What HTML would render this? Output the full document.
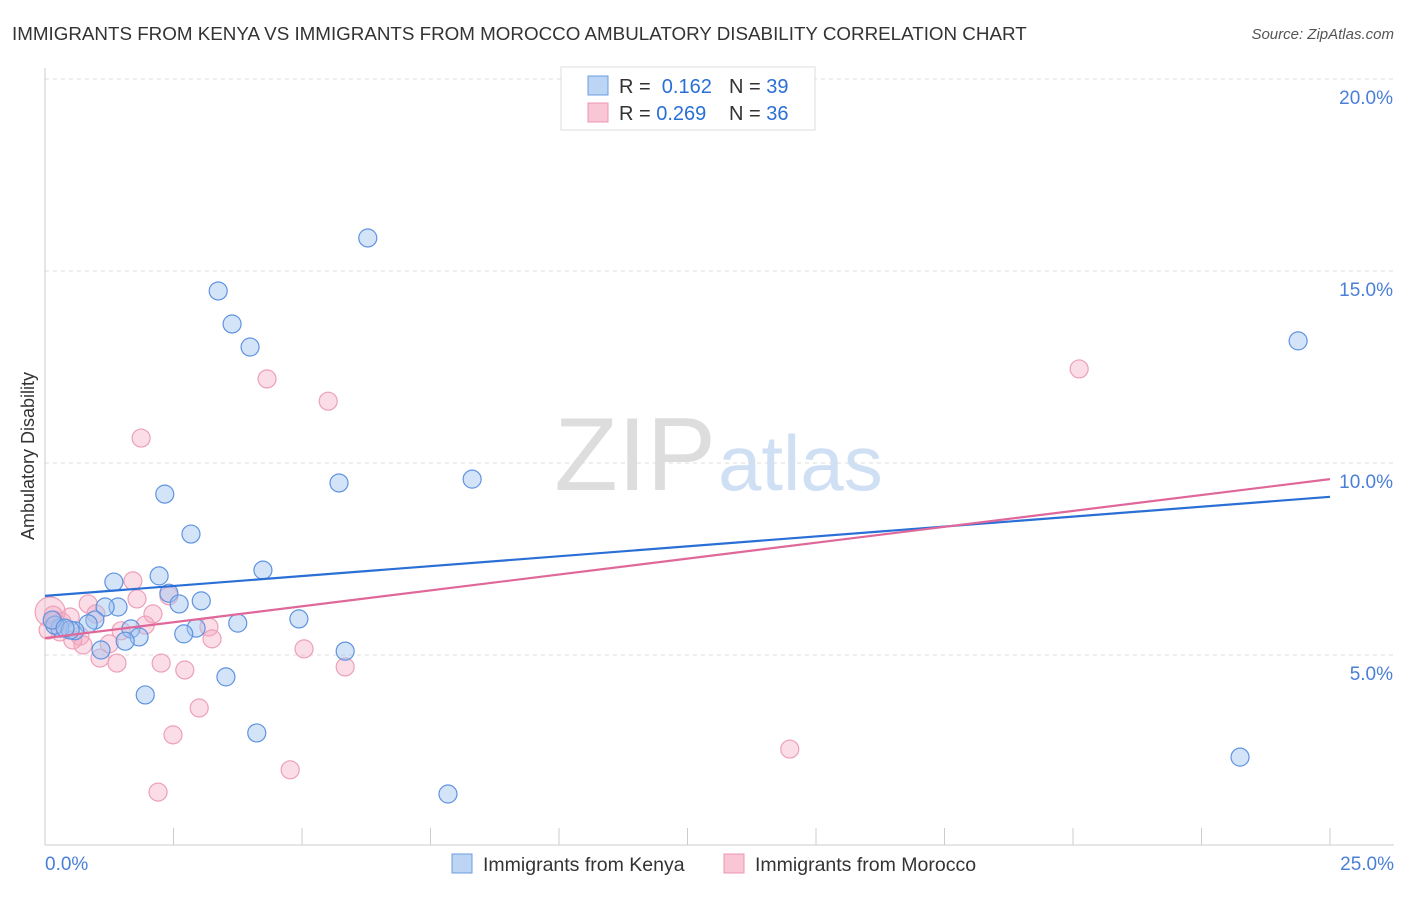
<!DOCTYPE html>
<html><head><meta charset="utf-8"><style>
body{margin:0;background:#fff;font-family:"Liberation Sans",sans-serif;}
svg text{font-family:"Liberation Sans",sans-serif;}
</style></head><body>
<svg id="c" width="1406" height="892" xmlns="http://www.w3.org/2000/svg">
<text x="12" y="40" font-size="18.8" fill="#333">IMMIGRANTS FROM KENYA VS IMMIGRANTS FROM MOROCCO AMBULATORY DISABILITY CORRELATION CHART</text>
<text x="1394" y="39" font-size="15" fill="#555" font-style="italic" text-anchor="end">Source: ZipAtlas.com</text>
<text x="716" y="490" font-size="104" fill="#ddd" text-anchor="end" font-family="Liberation Serif">ZIP</text>
<text x="718" y="490" font-size="78" fill="#cfe0f5">atlas</text>
<text transform="translate(34,456) rotate(-90)" font-size="18" fill="#333" text-anchor="middle">Ambulatory Disability</text>
<g id="grid"></g><g id="pts"></g><g id="lines"></g>
<g>
<rect x="561" y="67" width="254" height="63" fill="#fff" stroke="#ddd"/>
<rect x="588" y="76" width="20" height="19" fill="#bcd5f5" stroke="#6a9be0"/>
<rect x="588" y="103" width="20" height="19" fill="#f9c6d6" stroke="#ec95b0"/>
<text x="619" y="93" font-size="20" fill="#333">R = <tspan fill="#2a6fd6">&#160;0.162</tspan><tspan x="729">N = </tspan><tspan fill="#2a6fd6">39</tspan></text>
<text x="619" y="120" font-size="20" fill="#333">R = <tspan fill="#2a6fd6">0.269</tspan><tspan x="729">N = </tspan><tspan fill="#2a6fd6">36</tspan></text>
</g>
<g>
<rect x="452" y="854" width="20" height="19" fill="#bcd5f5" stroke="#6a9be0"/>
<text x="483" y="871" font-size="19.5" fill="#333">Immigrants from Kenya</text>
<rect x="724" y="854" width="20" height="19" fill="#f9c6d6" stroke="#ec95b0"/>
<text x="755" y="871" font-size="19.5" fill="#333">Immigrants from Morocco</text>
</g>
</svg>
<script>
const yTicks=[5,10,15,20];
const xTickLabels=["0.0%","25.0%"];
const kenyaX=[6.28,3.37,3.64,3.99,24.38,2.33,5.72,8.31,2.84,4.24,2.22,1.34,2.41,2.61,3.04,1.42,1.17,4.94,3.75,0.97,0.84,2.94,2.70,1.67,1.83,1.56,0.58,0.29,0.19,0.14,5.84,1.09,3.52,1.95,4.12,23.25,7.84,0.49,0.39];
const kenyaY=[15.86,14.48,13.62,13.02,13.18,9.19,9.48,9.58,8.15,7.21,7.06,6.90,6.61,6.33,6.41,6.25,6.25,5.94,5.83,5.91,5.81,5.70,5.55,5.68,5.47,5.36,5.63,5.70,5.78,5.91,5.10,5.13,4.43,3.96,2.97,2.34,1.38,5.65,5.70];
const moroccoX=[20.12,4.32,5.51,1.87,1.71,1.79,2.41,0.84,2.10,0.99,0.49,1.95,3.19,1.48,3.25,0.19,0.29,0.68,0.74,1.25,5.04,1.07,1.40,2.26,2.72,5.84,3.00,2.49,14.49,4.77,2.20,0.10,0.33,0.06,0.54,0.16];
const moroccoY=[12.45,12.19,11.61,10.65,6.93,6.46,6.54,6.33,6.07,6.07,5.99,5.78,5.73,5.63,5.42,5.91,5.60,5.49,5.26,5.29,5.16,4.92,4.79,4.79,4.61,4.69,3.62,2.92,2.55,2.01,1.43,6.12,5.86,5.65,5.39,6.04];
const kenyaTrend=[6.54,9.12];
const moroccoTrend=[5.44,9.58];
const NS="http://www.w3.org/2000/svg";
const X=v=>45+v/25*1285, Y=v=>847-v/20*768;
function mk(t,a,p){const e=document.createElementNS(NS,t);for(const k in a)e.setAttribute(k,a[k]);p.appendChild(e);return e;}
const grid=document.getElementById('grid');
yTicks.forEach(t=>{
 const l=mk('line',{x1:45,x2:1394,y1:Y(t),y2:Y(t),stroke:'#ddd','stroke-dasharray':'4,4'},grid);
 
 
 const tx=mk('text',{x:1393,y:Y(t)+25,'font-size':19,fill:'#4a7fd8','text-anchor':'end'},grid);
 tx.textContent=t.toFixed(1)+'%';
 
 
});
const ax=mk('line',{x1:45,x2:1394,y1:845,y2:845,stroke:'#ccc'},grid);


const ay=mk('line',{x1:45,x2:45,y1:68,y2:845,stroke:'#ccc'},grid);


for(let i=0;i<=10;i++){const tk=mk('line',{x1:X(i*2.5),x2:X(i*2.5),y1:828,y2:845,stroke:'#ccc'},grid);
 
 }
[[0,'start',45],[1,'end',1394]].forEach(([i,a,x])=>{const t=mk('text',{x:x,y:870,'font-size':19,fill:'#4a7fd8','text-anchor':a},grid);t.textContent=xTickLabels[i];
 
 });
const pts=document.getElementById('pts');
moroccoX.forEach((x,i)=>{const c=mk('circle',{cx:X(x),cy:Y(moroccoY[i]),r:(i==31?15:9),fill:'rgba(245,170,195,0.4)',stroke:'#eda0b8','stroke-width':1.2},pts);
 
 });
kenyaX.forEach((x,i)=>{const c=mk('circle',{cx:X(x),cy:Y(kenyaY[i]),r:9,fill:'rgba(160,196,240,0.45)',stroke:'#5f93e0','stroke-width':1.2},pts);
 
 });
const lines=document.getElementById('lines');
const lk=mk('line',{x1:X(0),x2:X(25),y1:Y(kenyaTrend[0]),y2:Y(kenyaTrend[1]),stroke:'#2a6fd6','stroke-width':2.2},lines);


const lm=mk('line',{x1:X(0),x2:X(25),y1:Y(moroccoTrend[0]),y2:Y(moroccoTrend[1]),stroke:'#e0679a','stroke-width':2.2},lines);


</script>
</body></html>
